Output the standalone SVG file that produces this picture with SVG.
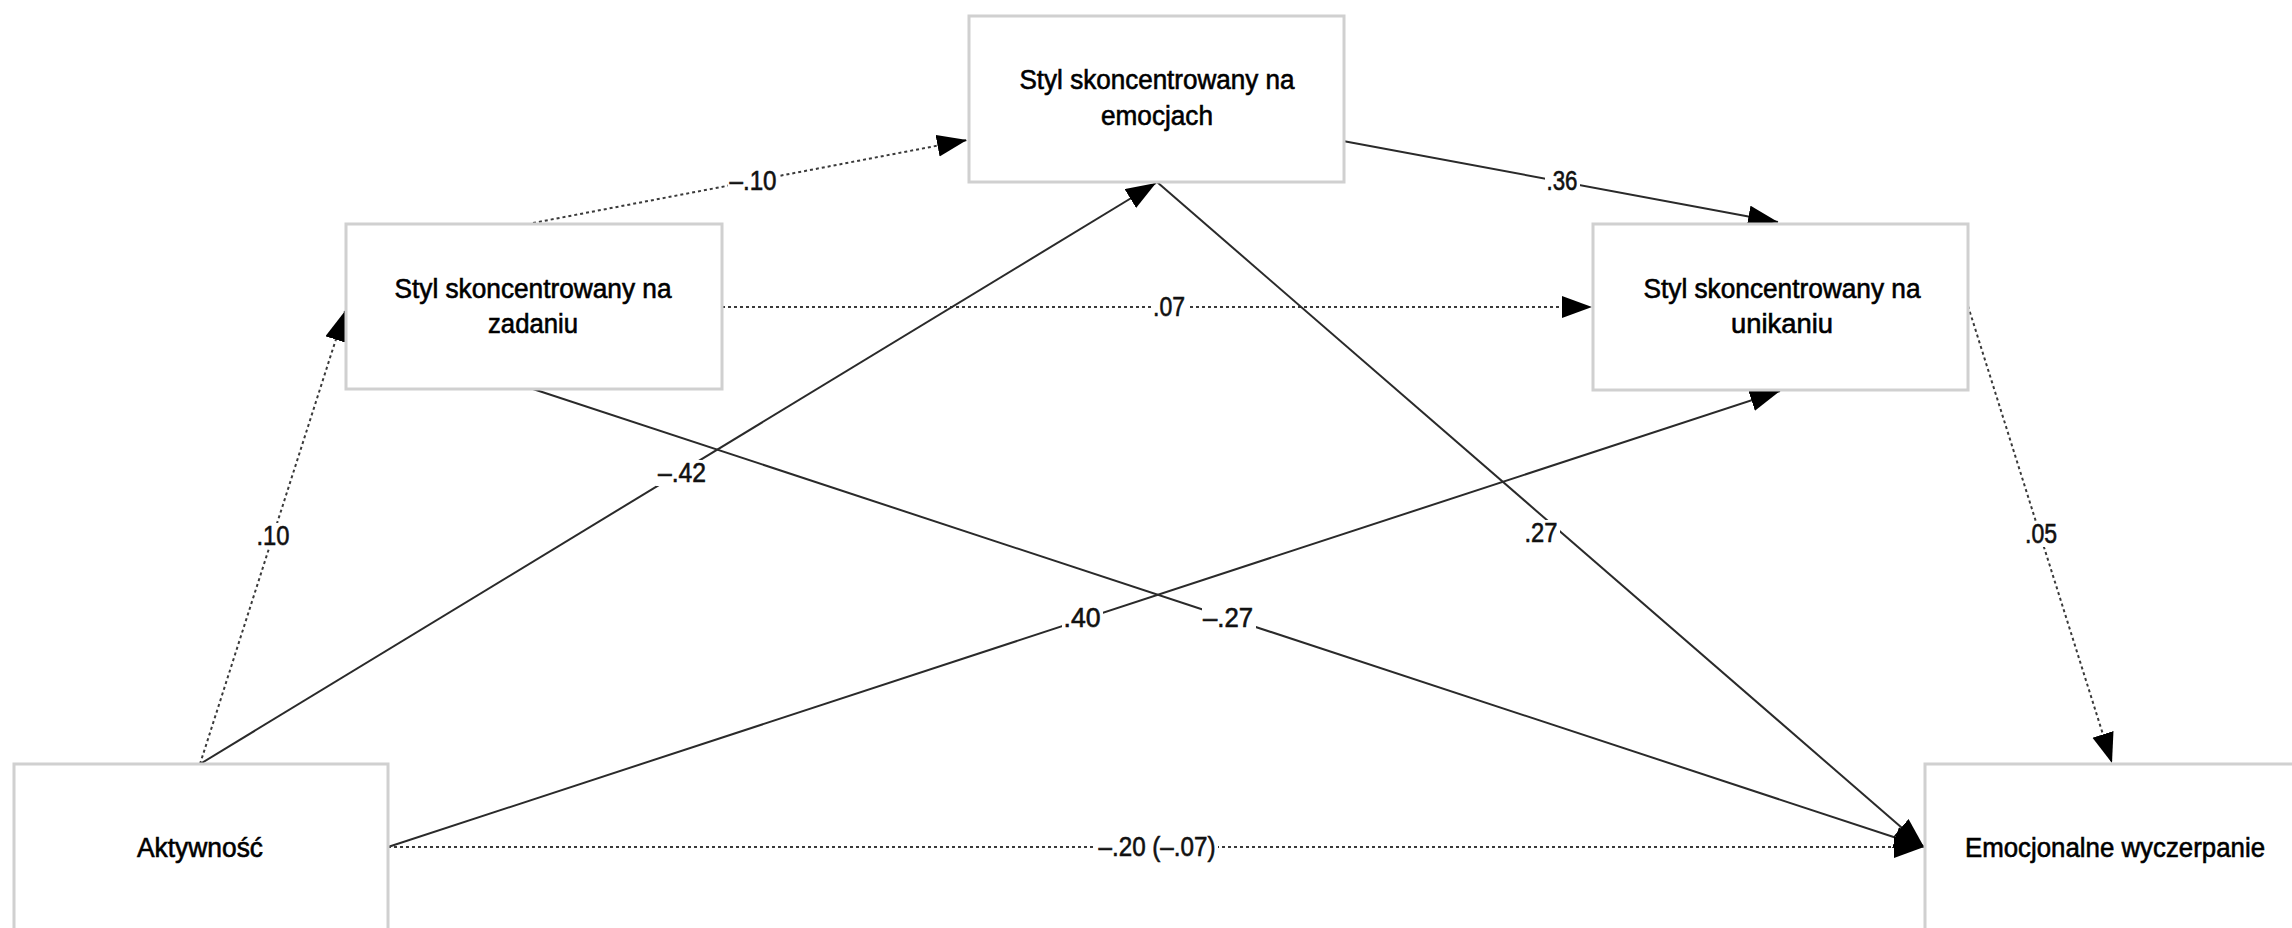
<svg xmlns="http://www.w3.org/2000/svg" width="2292" height="928" viewBox="0 0 2292 928">
<style>
.box{fill:#fff;stroke:#d0d0d0;stroke-width:3}
.t{font-family:"Liberation Sans",Arial,sans-serif;font-size:27px;fill:#000;stroke:#000;stroke-width:0.6;text-anchor:middle}
.lbl{font-family:"Liberation Sans",Arial,sans-serif;font-size:27px;fill:#111;stroke:#111;stroke-width:0.6;text-anchor:middle}
.bg{fill:#fff}
.solid{stroke:#2a2a2a;stroke-width:2;fill:none}
.dot{stroke:#3a3a3a;stroke-width:2;stroke-dasharray:3 3;fill:none}
</style>
<defs>
<marker id="ah" markerUnits="userSpaceOnUse" markerWidth="32" markerHeight="24" refX="30" refY="11" orient="auto">
<path d="M0,0 L30,11 L0,22 Z" fill="#000"/>
</marker>
</defs>
<rect width="2292" height="928" fill="#fff"/>
<g id="connectors">
<line class="dot" x1="533" y1="223" x2="967" y2="140" marker-end="url(#ah)"/>
<line class="solid" x1="1343" y1="141" x2="1778" y2="222" marker-end="url(#ah)"/>
<line class="dot" x1="722" y1="307" x2="1592" y2="307" marker-end="url(#ah)"/>
<line class="solid" x1="533" y1="389" x2="1924" y2="847" marker-end="url(#ah)"/>
<line class="solid" x1="200" y1="764" x2="1156" y2="183" marker-end="url(#ah)"/>
<line class="solid" x1="1157" y1="182" x2="1924" y2="847" marker-end="url(#ah)"/>
<line class="solid" x1="388" y1="847" x2="1780" y2="391" marker-end="url(#ah)"/>
<line class="dot" x1="388" y1="847" x2="1924" y2="847" marker-end="url(#ah)"/>
<line class="dot" x1="200" y1="764" x2="345" y2="311" marker-end="url(#ah)"/>
<line class="dot" x1="1968" y1="306" x2="2112" y2="763" marker-end="url(#ah)"/>
<g id="labels">
<rect class="bg" x="728" y="168" width="51" height="26"/>
<text class="lbl" x="753" y="190" textLength="47" lengthAdjust="spacingAndGlyphs">–.10</text>
<rect class="bg" x="1545" y="168" width="35" height="26"/>
<text class="lbl" x="1562" y="190" textLength="31" lengthAdjust="spacingAndGlyphs">.36</text>
<rect class="bg" x="1151" y="294" width="36" height="26"/>
<text class="lbl" x="1169" y="316" textLength="32" lengthAdjust="spacingAndGlyphs">.07</text>
<rect class="bg" x="656" y="460" width="52" height="26"/>
<text class="lbl" x="682" y="482" textLength="48" lengthAdjust="spacingAndGlyphs">–.42</text>
<rect class="bg" x="1062" y="605" width="41" height="26"/>
<text class="lbl" x="1082" y="627" textLength="37" lengthAdjust="spacingAndGlyphs">.40</text>
<rect class="bg" x="1202" y="605" width="54" height="26"/>
<text class="lbl" x="1228" y="627" textLength="50" lengthAdjust="spacingAndGlyphs">–.27</text>
<rect class="bg" x="1522" y="520" width="38" height="26"/>
<text class="lbl" x="1541" y="542" textLength="33" lengthAdjust="spacingAndGlyphs">.27</text>
<rect class="bg" x="255" y="523" width="37" height="26"/>
<text class="lbl" x="273" y="545" textLength="33" lengthAdjust="spacingAndGlyphs">.10</text>
<rect class="bg" x="2023" y="521" width="36" height="26"/>
<text class="lbl" x="2041" y="543" textLength="32" lengthAdjust="spacingAndGlyphs">.05</text>
<rect class="bg" x="1096" y="833" width="122" height="28"/>
<text class="lbl" x="1157" y="856" textLength="117" lengthAdjust="spacingAndGlyphs">–.20 (–.07)</text>
</g>
</g>
<g id="node-emocje">
<rect class="box" x="969" y="16" width="375" height="166"/>
<text class="t" x="1157" y="89" textLength="275" lengthAdjust="spacingAndGlyphs">Styl skoncentrowany na</text>
<text class="t" x="1157" y="125" textLength="112" lengthAdjust="spacingAndGlyphs">emocjach</text>
</g>
<g id="node-zadanie">
<rect class="box" x="346" y="224" width="376" height="165"/>
<text class="t" x="533" y="298" textLength="277" lengthAdjust="spacingAndGlyphs">Styl skoncentrowany na</text>
<text class="t" x="533" y="333" textLength="90" lengthAdjust="spacingAndGlyphs">zadaniu</text>
</g>
<g id="node-unikanie">
<rect class="box" x="1593" y="224" width="375" height="166"/>
<text class="t" x="1782" y="298" textLength="277" lengthAdjust="spacingAndGlyphs">Styl skoncentrowany na</text>
<text class="t" x="1782" y="333" textLength="102" lengthAdjust="spacingAndGlyphs">unikaniu</text>
</g>
<g id="node-aktywnosc">
<rect class="box" x="14" y="764" width="374" height="180"/>
<text class="t" x="200" y="857" textLength="126" lengthAdjust="spacingAndGlyphs">Aktywność</text>
</g>
<g id="node-wyczerpanie">
<rect class="box" x="1925" y="764" width="380" height="180"/>
<text class="t" x="2115" y="857" textLength="300" lengthAdjust="spacingAndGlyphs">Emocjonalne wyczerpanie</text>
</g>
</svg>
